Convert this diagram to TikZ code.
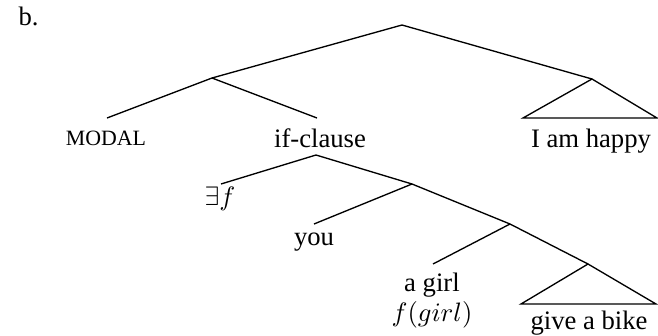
\documentclass[tikz,border=0pt]{standalone}
\usepackage{fontspec}
\setmainfont{Liberation Serif}
\begin{document}
\begin{tikzpicture}[x=0.375pt,y=-0.375pt,
  branch/.style={line width=0.5pt},
  leaf/.style={anchor=base,inner sep=0pt},
  smalllabel/.style={anchor=base,inner sep=0pt,font=\fontsize{8.2}{10}\selectfont}]
\useasboundingbox (0,0) rectangle (658,336);
% label
\node[anchor=base west,inner sep=0pt] (lbl) at (18,25) {b.};
% branching points
\coordinate (root) at (402,25);
\coordinate (m) at (212,78);
\coordinate (h) at (592,79);
\coordinate (ifc) at (316,155);
\coordinate (n2) at (412,184);
\coordinate (n3) at (510,224);
\coordinate (n4) at (588,264);
% line ends above leaves
\coordinate (modalT) at (107,118);
\coordinate (ifT) at (317,118);
\coordinate (hL) at (523,118);
\coordinate (hR) at (657,118);
\coordinate (exT) at (221,184);
\coordinate (youT) at (314,224);
\coordinate (girlT) at (433,264);
\coordinate (bL) at (521,304);
\coordinate (bR) at (656,304);
% leaves
\node[smalllabel] (modal) at (106,145) {MODAL};
\node[leaf] (ifclause) at (320,147) {if-clause};
\node[leaf] (happy) at (591,147) {I am happy};
\node[leaf] (ex) at (220,205) {$\exists f$};
\node[leaf] (you) at (314,245) {you};
\node[leaf] (girl) at (432,291) {a girl};
\node[leaf] (fgirl) at (432,321) {$f(girl)$};
\node[leaf] (bike) at (589,329) {give a bike};
% edges
\draw[branch] (m) -- (root) -- (h);
\draw[branch] (modalT) -- (m) -- (ifT);
\draw[branch] (h) -- (hL) -- (hR) -- cycle;
\draw[branch] (exT) -- (ifc) -- (n2);
\draw[branch] (youT) -- (n2) -- (n3);
\draw[branch] (girlT) -- (n3) -- (n4);
\draw[branch] (n4) -- (bL) -- (bR) -- cycle;
\end{tikzpicture}
\end{document}
